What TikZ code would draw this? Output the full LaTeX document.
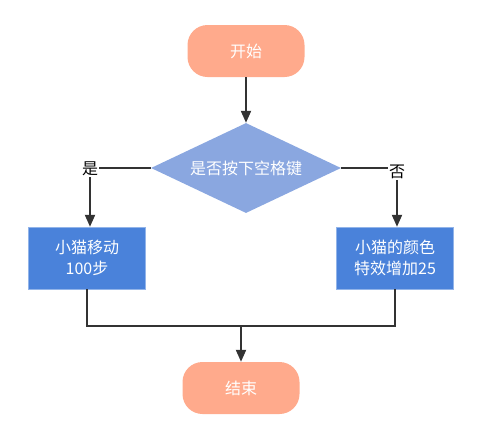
\documentclass[tikz,border=0pt]{standalone}
\usepackage{fontspec}
\setmainfont{Noto Sans CJK SC}
\usetikzlibrary{shapes.geometric,arrows.meta}
\definecolor{termfill}{HTML}{FFAA8C}
\definecolor{condfill}{HTML}{8AA7E0}
\definecolor{actfill}{HTML}{4A82DA}
\definecolor{flowline}{HTML}{333333}

\begin{document}
\begin{tikzpicture}[x=1pt,y=-1pt,font=\fontsize{16}{21}\selectfont,
  term/.style={fill=termfill,text=white,rounded corners=20pt,minimum width=117pt,minimum height=52pt,inner sep=0pt},
  cond/.style={diamond,fill=condfill,text=white,aspect=2.1,minimum width=190pt,minimum height=90pt,inner sep=0pt},
  act/.style={fill=actfill,draw=actfill!60!white,text=white,minimum width=117pt,minimum height=62pt,align=center,inner sep=2pt},
  flow/.style={flowline,line width=2pt},
  answer/.style={text=black,inner sep=1pt}]
\useasboundingbox (0,0) rectangle (493,437);
\node[term] (start) at (246,51) {开始};
\node[cond] (check) at (246,168) {是否按下空格键};
\node[answer] (yes) at (90,169) {是};
\node[answer] (no) at (397,172) {否};
\node[act] (move) at (87,258) {小猫移动\\100步};
\node[act] (effect) at (395,258) {小猫的颜色\\特效增加25};
\node[term] (stop) at (241,388) {结束};
\coordinate (join) at (241,326);
\draw[flow,-{Triangle[length=12pt,width=10pt]}] (start) -- (check);
\draw[flow] (check.west) -- (check.west -| yes.east);
\draw[flow] (check.east) -- (check.east -| no.west);
\draw[flow,-{Triangle[length=12pt,width=10pt]}] (yes.south) -- (yes.south |- move.north);
\draw[flow,-{Triangle[length=12pt,width=10pt]}] (no.south) -- (no.south |- effect.north);
\draw[flow] (move.south) |- (join) -| (effect.south);
\draw[flow,-{Triangle[length=12pt,width=10pt]}] (join) -- (stop);
\end{tikzpicture}
\end{document}
